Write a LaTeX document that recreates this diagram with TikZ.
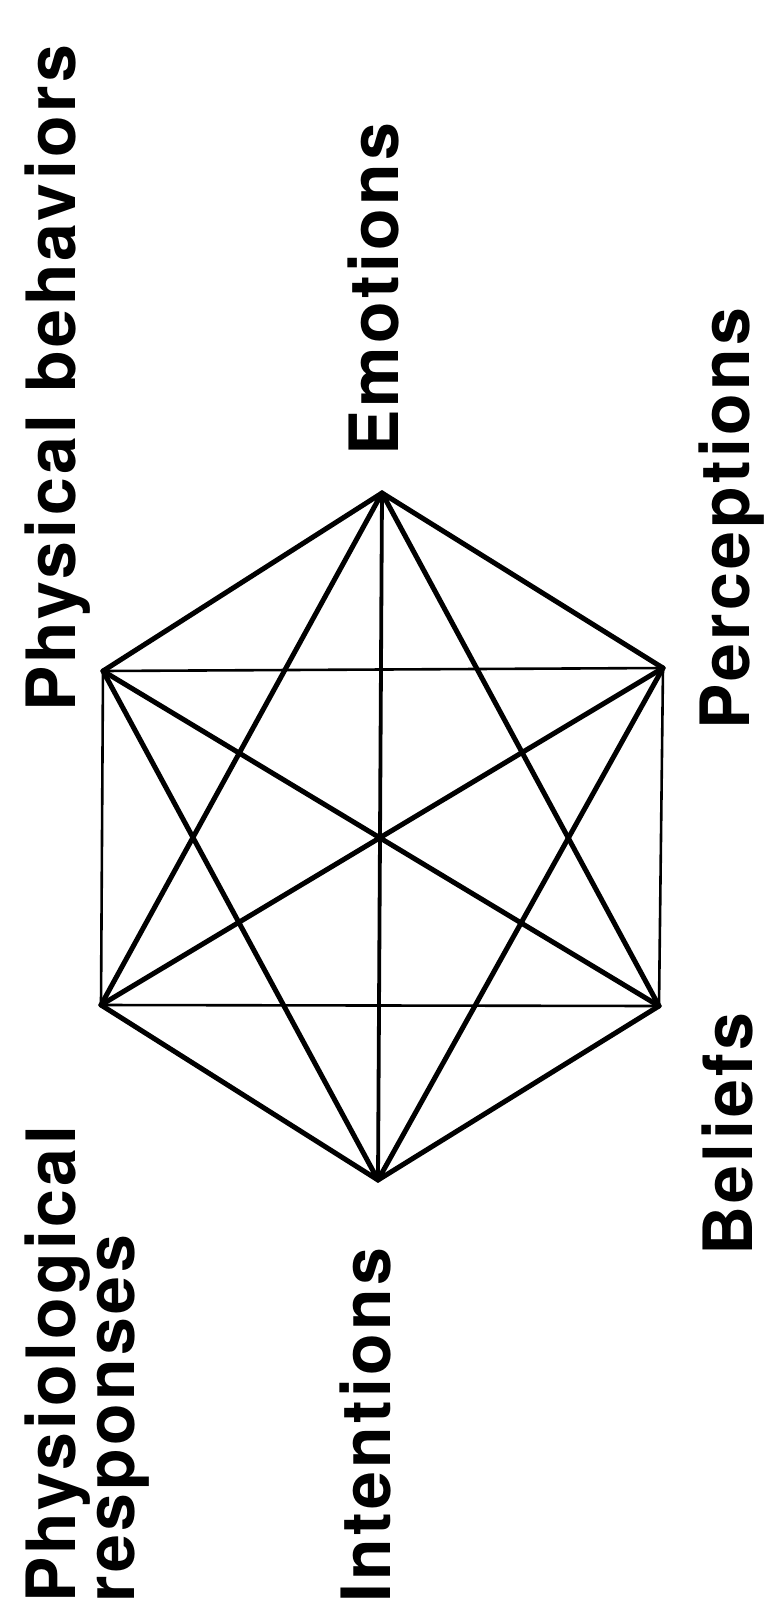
\documentclass[tikz,border=0pt]{standalone}
\usepackage{fontspec}
\setmainfont[LetterSpace=5]{TeX Gyre Heros}
\begin{document}
\begin{tikzpicture}[x=1pt,y=-1pt,line cap=round,line join=round,
  lbl/.style={rotate=90,anchor=base west,inner sep=0pt,align=left,
    font=\fontsize{68}{59}\selectfont\bfseries},
  side/.style={line width=5pt},
  chord/.style={line width=2.6pt},
  spoke/.style={line width=3.8pt}]
  \useasboundingbox (0,0) rectangle (765,1608);

  % ==========================================
  % HEXAGON CORNERS
  % ==========================================
  \coordinate (emo)   at (382,493);
  \coordinate (perc)  at (663,668);
  \coordinate (bel)   at (659,1006);
  \coordinate (intn)  at (378,1180);
  \coordinate (resp)  at (101,1005);
  \coordinate (behav) at (103,671);

  % outer sides
  \foreach \a/\b in {emo/perc,bel/intn,intn/resp,behav/emo} \draw[side] (\a)--(\b);
  \foreach \a/\b in {perc/bel,resp/behav} \draw[chord] (\a)--(\b);

  % star triangles
  \foreach \a/\b in {emo/bel,emo/resp,behav/intn,perc/intn} \draw[side] (\a)--(\b);
  \foreach \a/\b in {behav/perc,resp/bel} \draw[chord] (\a)--(\b);

  % long diagonals through the centre
  \foreach \a/\b in {behav/bel,perc/resp} \draw[side] (\a)--(\b);
  \draw[spoke] (emo)--(intn);

  % ==========================================
  % LABELS
  % ==========================================
  \node[lbl] (behavlbl) at (75,712)   {Physical behaviors};
  \node[lbl] (emolbl)   at (398,456)  {Emotions};
  \node[lbl] (perclbl)  at (749,730)  {Perceptions};
  \node[lbl] (bellbl)   at (752,1256) {Beliefs};
  \node[lbl] (intnlbl)  at (390,1603) {Intentions};
  \node[lbl] (resplbl)  at (134,1603) {Physiological\\responses};

\end{tikzpicture}
\end{document}
